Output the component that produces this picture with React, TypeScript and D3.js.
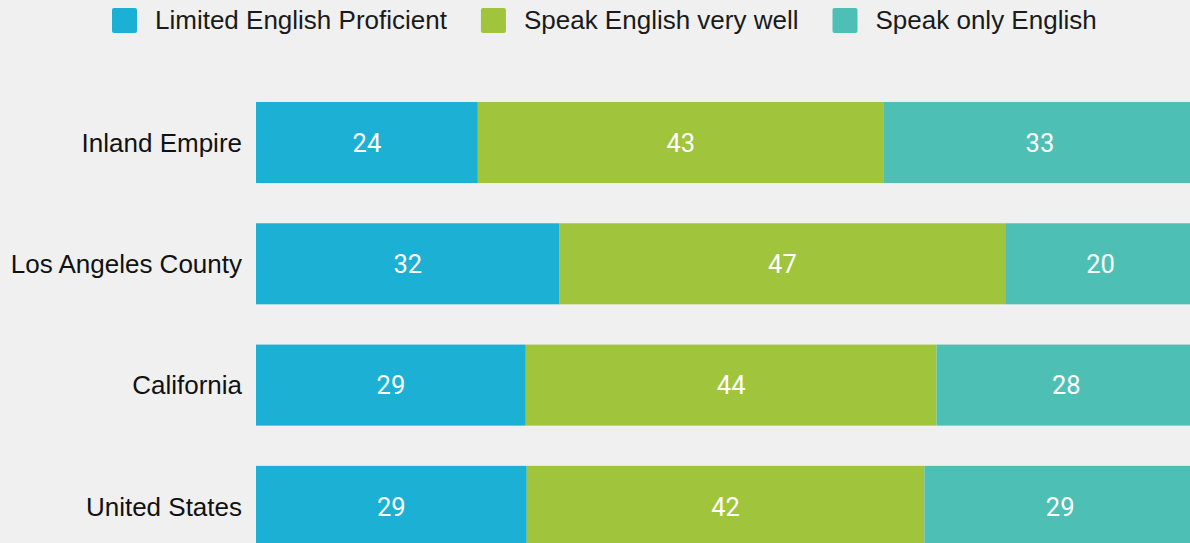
import React, { useEffect, useRef } from 'react';
import * as d3 from 'd3';

const categories = ['Inland Empire', 'Los Angeles County', 'California', 'United States'];
const seriesNames = ['Limited English Proficient', 'Speak English very well', 'Speak only English'];
const limitedEnglish = [23.6, 32.3, 28.7, 28.8];
const veryWell = [43.2, 47.4, 43.7, 42.3];
const onlyEnglish = [33.2, 20.3, 27.6, 28.9];
const colors = ['#1bb0d4', '#a0c43b', '#4ebfb5'];

type Row = { cat: string; s0: number; s1: number; s2: number };

const App: React.FC = () => {
    const ref = useRef<SVGSVGElement>(null);
    const width = 1190;
    const height = 543;

    useEffect(() => {
        if (!ref.current) return;
        const svg = d3.select(ref.current);
        svg.selectAll('*').remove();

        const rows: Row[] = categories.map((c, i) => ({
            cat: c,
            s0: limitedEnglish[i],
            s1: veryWell[i],
            s2: onlyEnglish[i],
        }));

        const stack = d3.stack<Row>().keys(['s0', 's1', 's2']);
        const layers = stack(rows);

        const x = d3.scaleLinear().domain([0, 100]).range([256, 1196]);
        const y = d3
            .scaleBand<string>()
            .domain(categories)
            .range([81.85, 567.05])
            .paddingInner(0.332)
            .paddingOuter(0.166);

        svg.append('rect').attr('width', width).attr('height', height).attr('fill', '#f0f0f0');

        // bars
        const g = svg.append('g');
        layers.forEach((layer, li) => {
            const lg = g.append('g').attr('fill', colors[li]);
            lg.selectAll('rect')
                .data(layer)
                .enter()
                .append('rect')
                .attr('x', (d) => x(d[0]))
                .attr('y', (d) => y(d.data.cat) as number)
                .attr('width', (d) => x(d[1]) - x(d[0]))
                .attr('height', y.bandwidth());

            lg.selectAll('text')
                .data(layer)
                .enter()
                .append('text')
                .attr('x', (d) => (x(d[0]) + x(d[1])) / 2)
                .attr('y', (d) => (y(d.data.cat) as number) + y.bandwidth() / 2)
                .attr('dy', '0.36em')
                .attr('text-anchor', 'middle')
                .attr('fill', '#ffffff')
                .style('font-family', 'Roboto, sans-serif')
                .style('font-size', '25.5px')
                .text((d) => Math.round(d[1] - d[0]));
        });

        // category labels
        svg.append('g')
            .selectAll('text')
            .data(categories)
            .enter()
            .append('text')
            .attr('x', 242)
            .attr('y', (d) => (y(d) as number) + y.bandwidth() / 2)
            .attr('dy', '0.35em')
            .attr('text-anchor', 'end')
            .attr('fill', '#111111')
            .style('font-family', '"Liberation Sans", Arial, sans-serif')
            .style('font-size', '26px')
            .text((d) => d);

        // legend
        const legend = svg.append('g');
        let cx = 112;
        seriesNames.forEach((name, i) => {
            legend
                .append('rect')
                .attr('x', cx)
                .attr('y', 8)
                .attr('width', 25)
                .attr('height', 25)
                .attr('rx', 2)
                .attr('fill', colors[i]);
            const t = legend
                .append('text')
                .attr('x', cx + 43)
                .attr('y', 28.5)
                .attr('fill', '#1a1a1a')
                .style('font-family', '"Liberation Sans", Arial, sans-serif')
                .style('font-size', '26px')
                .text(name);
            const len = (t.node() as SVGTextElement).getComputedTextLength();
            cx = cx + 43 + len + 34;
        });
    }, []);

    return (
        <svg
            ref={ref}
            width={width}
            height={height}
            style={{ position: 'absolute', left: 0, top: 0, display: 'block' }}
        />
    );
};

export default App;
